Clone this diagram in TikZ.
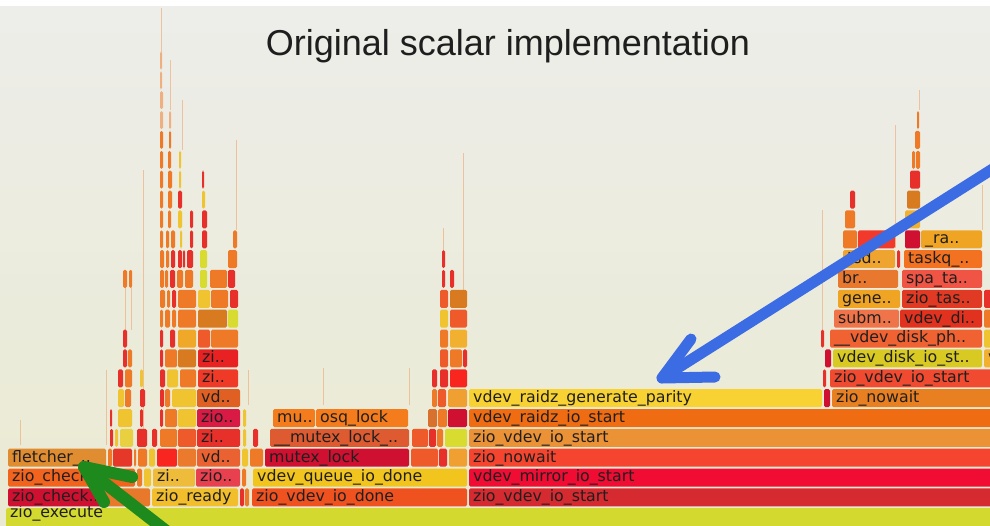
\documentclass[tikz,border=0pt]{standalone}
\usepackage{fontspec}
\setmainfont{DejaVu Sans}
\newfontfamily\titlefont{Liberation Sans}
\newfontfamily\lblfont{DejaVu Sans}
\definecolor{bgTop}{HTML}{EDEDEA}
\definecolor{bgBot}{HTML}{EAEAD2}
\definecolor{cExec}{HTML}{D3D92F}
\definecolor{cCrim}{HTML}{D01030}
\definecolor{cTan}{HTML}{E8782A}
\definecolor{cZready}{HTML}{F2BE2C}
\definecolor{cRed}{HTML}{E8302A}
\definecolor{cVdone}{HTML}{F0521F}
\definecolor{cVstartA}{HTML}{D52A30}
\definecolor{cChk}{HTML}{F2641E}
\definecolor{cOr}{HTML}{EE7A28}
\definecolor{cYel}{HTML}{F0C430}
\definecolor{cZiY}{HTML}{EEBB3A}
\definecolor{cPink}{HTML}{E8404E}
\definecolor{cQdone}{HTML}{F2C41E}
\definecolor{cMirror}{HTML}{F00C32}
\definecolor{cFlet}{HTML}{E08C30}
\definecolor{cRedB}{HTML}{E63828}
\definecolor{cBright}{HTML}{F8261E}
\definecolor{cOrB}{HTML}{EC7A2C}
\definecolor{cVd}{HTML}{EA6232}
\definecolor{cOrRed}{HTML}{EE5A2A}
\definecolor{cLOr}{HTML}{F0A030}
\definecolor{cNowait}{HTML}{F6452F}
\definecolor{cYelB}{HTML}{E8D040}
\definecolor{cMlock}{HTML}{DE5A30}
\definecolor{cYG}{HTML}{D8DC30}
\definecolor{cVsD}{HTML}{EC9236}
\definecolor{cZioE}{HTML}{D81A44}
\definecolor{cOsq}{HTML}{F57C1C}
\definecolor{cBrown}{HTML}{D8702E}
\definecolor{cRaidz}{HTML}{F06C12}
\definecolor{cVdF}{HTML}{E06024}
\definecolor{cParity}{HTML}{F8D232}
\definecolor{cNowF}{HTML}{E88022}
\definecolor{cRedG}{HTML}{F03A28}
\definecolor{cVsG}{HTML}{F04A30}
\definecolor{cOrDark}{HTML}{D87A20}
\definecolor{cRedH}{HTML}{E82222}
\definecolor{cDiskst}{HTML}{D8CA22}
\definecolor{cOrYel}{HTML}{F0A828}
\definecolor{cYelOr}{HTML}{F2B030}
\definecolor{cPh}{HTML}{F06232}
\definecolor{cSubm}{HTML}{F0744A}
\definecolor{cVdi}{HTML}{E0321E}
\definecolor{cGene}{HTML}{F0A424}
\definecolor{cTas}{HTML}{E03A24}
\definecolor{cBr}{HTML}{E8782E}
\definecolor{cSpa}{HTML}{F05444}
\definecolor{cTqd}{HTML}{F0A430}
\definecolor{cTaskq}{HTML}{F27222}
\definecolor{cRedN}{HTML}{F23A2C}
\definecolor{cRa}{HTML}{F0A424}
\definecolor{cOrL}{HTML}{EEB080}
\definecolor{blueArr}{HTML}{3C6CE4}
\definecolor{greenArr}{HTML}{1E8A1E}
\definecolor{titleCol}{HTML}{1E1E1E}
% box: x1, x2, row, colour
\newcommand\fb[4]{\fill[#4,rounded corners=1.5] (#1,{517.3-19.86*#3-9}) rectangle (#2,{517.3-19.86*#3+9});}
% box with label
\newcommand\fbl[5]{\fb{#1}{#2}{#3}{#4}\node[lbl] at ({#1+4},{517.3-19.86*#3+4.3}) {#5};}
\begin{document}
\begin{tikzpicture}[x=1pt,y=-1pt,
  lbl/.style={anchor=base west,inner sep=0pt,font={\lblfont\fontsize{15.8}{16}\selectfont},text=black!88},
  faint/.style={draw=cOrL,line width=1,opacity=0.7},
  barrow/.style={draw=blueArr,line width=11,line cap=round,line join=round},
  garrow/.style={draw=greenArr,line width=12,line cap=round,line join=round}]
\useasboundingbox (0,0) rectangle (990,525);
\clip (0,0) rectangle (990,525);
\shade[top color=bgTop,bottom color=bgBot] (0,0) rectangle (990,525);
\fill[white] (0,0) rectangle (990,6);
\node[font={\titlefont\fontsize{36}{40}\selectfont},text=titleCol,anchor=base] (title) at (508,55) {Original scalar implementation};
% faint thin frames
\draw[faint] (161,8) -- (161,60);
\draw[faint] (170,60) -- (170,110);
\draw[faint] (182,100) -- (182,150);
\draw[faint] (125,270) -- (125,330);
\draw[faint] (131,270) -- (131,330);
\draw[faint] (143,170) -- (143,440);
\draw[faint] (106,370) -- (106,445);
\draw[faint] (20,420) -- (20,445);
\draw[faint] (236,140) -- (236,230);
\draw[faint] (248,370) -- (248,405);
\draw[faint] (323,368) -- (323,405);
\draw[faint] (409,368) -- (409,405);
\draw[faint] (443,228) -- (443,250);
\draw[faint] (463,153) -- (463,290);
\draw[faint] (822,210) -- (822,340);
\draw[faint] (895,125) -- (895,248);
\draw[faint] (919,90) -- (919,110);
\draw[faint] (982,185) -- (982,230);
% row 0
\fill[cExec,rounded corners=1.5] (6,508) rectangle (995,530);
\node[lbl] (exec) at (10,517) {zio\_execute};
% row 1
\fbl{8}{102}{1}{cCrim}{zio\_check..}
\fb{104}{150}{1}{cTan}
\fbl{152}{238}{1}{cZready}{zio\_ready}
\fb{240}{244}{1}{cRed}
\fb{245}{249}{1}{cOr}
\fbl{252}{467}{1}{cVdone}{zio\_vdev\_io\_done}
\fbl{469}{995}{1}{cVstartA}{zio\_vdev\_io\_start}
% row 2
\fbl{8}{135}{2}{cChk}{zio\_check..}
\fb{137}{142}{2}{cOr}
\fb{144}{151}{2}{cYel}
\fbl{153}{195}{2}{cZiY}{zi..}
\fbl{196}{240}{2}{cPink}{zio..}
\fb{242}{246}{2}{cOr}
\fbl{253}{467}{2}{cQdone}{vdev\_queue\_io\_done}
\fbl{469}{995}{2}{cMirror}{vdev\_mirror\_io\_start}
% row 3
\fbl{8}{106}{3}{cFlet}{fletcher\_..}
\fb{108}{112}{3}{cOr}
\fb{113}{132}{3}{cRedB}
\fb{134}{136}{3}{cOr}
\fb{138}{147}{3}{cOr}
\fb{149}{155}{3}{cYel}
\fb{157}{177}{3}{cBright}
\fb{178}{196}{3}{cOrB}
\fbl{197}{240}{3}{cVd}{vd..}
\fb{242}{248}{3}{cYel}
\fb{250}{263}{3}{cOr}
\fbl{265}{409}{3}{cCrim}{mutex\_lock}
\fb{411}{438}{3}{cOrRed}
\fb{439}{447}{3}{cRed}
\fb{449}{467}{3}{cLOr}
\fbl{469}{995}{3}{cNowait}{zio\_nowait}
% row 4
\fb{110}{113}{4}{cRed}
\fb{115}{118}{4}{cYel}
\fb{120}{133}{4}{cYelB}
\fb{137}{147}{4}{cRed}
\fb{152}{157}{4}{cRed}
\fb{160}{177}{4}{cOr}
\fb{178}{196}{4}{cOrRed}
\fbl{197}{240}{4}{cRed}{zi..}
\fb{243}{246}{4}{cYel}
\fb{253}{258}{4}{cRed}
\fbl{270}{409}{4}{cMlock}{\_\_mutex\_lock\_..}
\fb{412}{428}{4}{cOrRed}
\fb{429}{436}{4}{cRed}
\fb{437}{443}{4}{cOr}
\fb{445}{467}{4}{cYG}
\fbl{469}{995}{4}{cVsD}{zio\_vdev\_io\_start}
% row 5
\fb{110}{112}{5}{cRed}
\fb{118}{132}{5}{cYel}
\fb{140}{143}{5}{cRed}
\fb{160}{163}{5}{cRed}
\fb{165}{177}{5}{cOr}
\fb{178}{196}{5}{cYel}
\fbl{197}{240}{5}{cZioE}{zio..}
\fb{243}{246}{5}{cYel}
\fbl{273}{315}{5}{cOsq}{mu..}
\fbl{316}{408}{5}{cOsq}{osq\_lock}
\fb{428}{437}{5}{cBrown}
\fb{438}{447}{5}{cOr}
\fb{448}{467}{5}{cCrim}
\fbl{469}{995}{5}{cRaidz}{vdev\_raidz\_io\_start}
% row 6
\fb{118}{124}{6}{cYel}
\fb{125}{131}{6}{cOr}
\fb{140}{145}{6}{cRed}
\fb{160}{164}{6}{cRed}
\fb{165}{170}{6}{cOr}
\fb{172}{196}{6}{cYel}
\fbl{197}{240}{6}{cVdF}{vd..}
\fb{432}{437}{6}{cOr}
\fb{438}{446}{6}{cOrRed}
\fb{448}{467}{6}{cLOr}
\fbl{469}{822}{6}{cParity}{vdev\_raidz\_generate\_parity}
\fb{824}{830}{6}{cCrim}
\fbl{832}{995}{6}{cNowF}{zio\_nowait}
% row 7
\fb{118}{123}{7}{cRed}
\fb{125}{132}{7}{cOr}
\fb{140}{143}{7}{cYel}
\fb{160}{165}{7}{cRed}
\fb{167}{178}{7}{cYel}
\fb{180}{196}{7}{cOr}
\fbl{198}{238}{7}{cRedG}{zi..}
\fb{432}{437}{7}{cRed}
\fb{440}{448}{7}{cRed}
\fb{450}{467}{7}{cBright}
\fb{823}{826}{7}{cRed}
\fbl{830}{995}{7}{cVsG}{zio\_vdev\_io\_start}
% row 8
\fb{123}{127}{8}{cRed}
\fb{128}{132}{8}{cOr}
\fb{160}{163}{8}{cRed}
\fb{165}{177}{8}{cOr}
\fb{178}{196}{8}{cOrDark}
\fbl{198}{238}{8}{cRedH}{zi..}
\fb{440}{448}{8}{cOrRed}
\fb{450}{462}{8}{cOr}
\fb{463}{467}{8}{cRed}
\fb{825}{831}{8}{cCrim}
\fbl{833}{982}{8}{cDiskst}{vdev\_disk\_io\_st..}
\fbl{984}{995}{8}{cYelOr}{v}
% row 9
\fb{123}{127}{9}{cRed}
\fb{160}{163}{9}{cRed}
\fb{170}{175}{9}{cRed}
\fb{178}{196}{9}{cOrYel}
\fb{198}{210}{9}{cOrRed}
\fb{211}{238}{9}{cOr}
\fb{440}{448}{9}{cOr}
\fb{450}{467}{9}{cYelOr}
\fb{821}{824}{9}{cRed}
\fbl{830}{982}{9}{cPh}{\_\_vdev\_disk\_ph..}
\fb{984}{995}{9}{cYel}
% row 10
\fb{160}{163}{10}{cOr}
\fb{165}{170}{10}{cOr}
\fb{172}{176}{10}{cOr}
\fb{178}{196}{10}{cOr}
\fb{198}{227}{10}{cOrDark}
\fb{228}{238}{10}{cYG}
\fb{440}{448}{10}{cYel}
\fb{450}{467}{10}{cOrRed}
\fbl{834}{899}{10}{cSubm}{subm..}
\fbl{900}{982}{10}{cVdi}{vdev\_di..}
\fb{984}{995}{10}{cOr}
% row 11
\fb{160}{165}{11}{cOr}
\fb{167}{170}{11}{cOr}
\fb{172}{176}{11}{cRed}
\fb{178}{196}{11}{cOr}
\fb{198}{210}{11}{cYel}
\fb{211}{228}{11}{cOr}
\fb{230}{238}{11}{cRed}
\fb{440}{448}{11}{cOrRed}
\fb{450}{467}{11}{cOrDark}
\fbl{838}{900}{11}{cGene}{gene..}
\fbl{902}{982}{11}{cTas}{zio\_tas..}
\fb{984}{995}{11}{cRed}
% row 12
\fb{123}{127}{12}{cOr}
\fb{129}{132}{12}{cOr}
\fb{160}{164}{12}{cOr}
\fb{165}{168}{12}{cOr}
\fb{170}{175}{12}{cRed}
\fb{177}{183}{12}{cOr}
\fb{185}{193}{12}{cOr}
\fb{200}{207}{12}{cYG}
\fb{210}{227}{12}{cOr}
\fb{228}{235}{12}{cRed}
\fb{442}{445}{12}{cRed}
\fb{450}{454}{12}{cRed}
\fbl{838}{898}{12}{cBr}{br..}
\fbl{902}{982}{12}{cSpa}{spa\_ta..}
% row 13
\fb{160}{164}{13}{cOr}
\fb{166}{169}{13}{cOr}
\fb{171}{175}{13}{cRed}
\fb{178}{182}{13}{cRed}
\fb{183}{185}{13}{cRed}
\fb{187}{193}{13}{cRed}
\fb{200}{207}{13}{cYG}
\fb{228}{237}{13}{cOr}
\fb{442}{445}{13}{cRed}
\fbl{843}{895}{13}{cTqd}{tsd..}
\fb{897}{900}{13}{cRed}
\fbl{904}{982}{13}{cTaskq}{taskq\_..}
% row 14
\fb{160}{163}{14}{cOr}
\fb{166}{169}{14}{cOr}
\fb{171}{175}{14}{cOr}
\fb{180}{182}{14}{cYel}
\fb{190}{193}{14}{cRed}
\fb{202}{207}{14}{cRed}
\fb{233}{237}{14}{cOr}
\fb{843}{857}{14}{cOr}
\fb{858}{895}{14}{cRedN}
\fb{905}{920}{14}{cCrim}
\fbl{921}{982}{14}{cRa}{\_ra..}
% row 15
\fb{160}{163}{15}{cOr}
\fb{168}{171}{15}{cOr}
\fb{178}{182}{15}{cYel}
\fb{190}{193}{15}{cRed}
\fb{202}{207}{15}{cRed}
\fb{845}{855}{15}{cOr}
\fb{905}{920}{15}{cYelOr}
% row 16
\fb{160}{163}{16}{cOr}
\fb{168}{172}{16}{cOr}
\fb{178}{182}{16}{cRed}
\fb{202}{205}{16}{cYel}
\fb{850}{855}{16}{cRed}
\fb{907}{920}{16}{cOrDark}
% row 17
\fb{160}{163}{17}{cOr}
\fb{168}{172}{17}{cOr}
\fb{179}{181}{17}{cYel}
\fb{202}{204}{17}{cRed}
\fb{910}{920}{17}{cRed}
% row 18
\fb{160}{163}{18}{cOr}
\fb{168}{171}{18}{cOr}
\fb{179}{181}{18}{cYel}
\fb{912}{915}{18}{cOr}
\fb{916}{920}{18}{cOr}
% row 19-23
\fb{160}{163}{19}{cOr}
\fb{169}{171}{19}{cOr}
\fb{915}{920}{19}{cOr}
\fb{160}{163}{20}{cOrL}
\fb{169}{171}{20}{cOrL}
\fb{917}{919}{20}{cOr}
\fb{160}{163}{21}{cOrL}
\fb{160}{162}{22}{cOrL}
\fb{160}{162}{23}{cOrL}
% blue arrow
\coordinate (bStart) at (1002,163);
\coordinate (bTip) at (662,378);
\coordinate (bArmA) at (691,339);
\coordinate (bArmB) at (715,377);
\draw[barrow] (bStart) -- (bTip);
\draw[barrow] (bArmA) -- (bTip) -- (bArmB);
% green arrow
\coordinate (gStart) at (178,540);
\coordinate (gTip) at (84,467);
\coordinate (gArmA) at (132,477);
\coordinate (gArmB) at (104,502);
\draw[garrow] (gStart) -- (gTip);
\draw[garrow] (gArmA) -- (gTip) -- (gArmB);
\end{tikzpicture}
\end{document}
